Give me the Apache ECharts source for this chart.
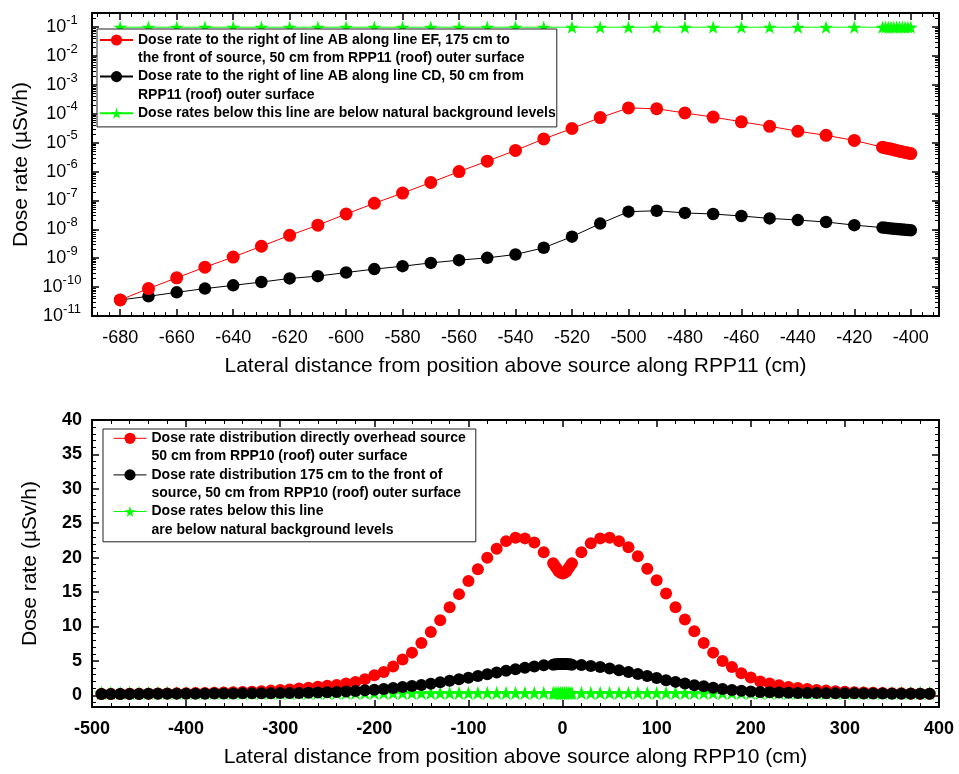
<!DOCTYPE html>
<html>
<head>
<meta charset="utf-8">
<script src="https://cdn.jsdelivr.net/npm/echarts@6/dist/echarts.min.js"></script>
<style>
  html, body { margin: 0; padding: 0; background: #fff; }
  #chart { width: 959px; height: 774px; }
</style>
</head>
<body>
<div id="chart"></div>
<script>
// ---- upper panel: lateral distance along RPP11 (log scale) ----
const topX = [
  -680, -670, -660, -650, -640, -630, -620, -610, -600, -590, -580, -570, -560, -550,
  -540, -530, -520, -510, -500, -490, -480, -470, -460, -450, -440, -430, -420,
  -410, -409, -408, -407, -406, -405, -404, -403, -402, -401, -400
]
const topRedEF = [
  3.6e-11, 8.9e-11, 2.1e-10, 4.9e-10, 1.1e-9, 2.6e-9, 6.2e-9, 1.4e-8, 3.4e-8, 8.0e-8, 1.8e-7, 4.2e-7, 1.0e-6, 2.3e-6,
  5.4e-6, 1.35e-5, 3.1e-5, 7.4e-5, 1.6e-4, 1.5e-4, 1.07e-4, 7.7e-5, 5.3e-5, 3.7e-5, 2.5e-5, 1.8e-5, 1.2e-5,
  7.0e-6, 6.6e-6, 6.3e-6, 6.0e-6, 5.7e-6, 5.4e-6, 5.1e-6, 4.9e-6, 4.6e-6, 4.4e-6, 4.2e-6
]
const topBlackCD = [
  3.6e-11, 4.8e-11, 6.6e-11, 8.9e-11, 1.15e-10, 1.5e-10, 2.0e-10, 2.4e-10, 3.2e-10, 4.2e-10, 5.3e-10, 6.9e-10, 8.6e-10, 1.03e-9,
  1.35e-9, 2.3e-9, 5.6e-9, 1.58e-8, 4.1e-8, 4.4e-8, 3.7e-8, 3.4e-8, 2.9e-8, 2.4e-8, 2.1e-8, 1.8e-8, 1.4e-8,
  1.15e-8, 1.13e-8, 1.1e-8, 1.08e-8, 1.05e-8, 1.03e-8, 1.0e-8, 9.9e-9, 9.7e-9, 9.5e-9, 9.3e-9
]
const topGreenBg = [
  0.1, 0.1, 0.1, 0.1, 0.1, 0.1, 0.1, 0.1, 0.1, 0.1, 0.1, 0.1, 0.1, 0.1,
  0.1, 0.1, 0.1, 0.1, 0.1, 0.1, 0.1, 0.1, 0.1, 0.1, 0.1, 0.1, 0.1,
  0.1, 0.1, 0.1, 0.1, 0.1, 0.1, 0.1, 0.1, 0.1, 0.1, 0.1
]

// ---- lower panel: lateral distance along RPP10 (linear) ----
const botX = [
  -490, -480, -470, -460, -450, -440, -430, -420, -410, -400,
  -390, -380, -370, -360, -350, -340, -330, -320, -310, -300,
  -290, -280, -270, -260, -250, -240, -230, -220, -210, -200,
  -190, -180, -170, -160, -150, -140, -130, -120, -110, -100,
  -90, -80, -70, -60, -50, -40, -30, -20,
  -10, -8, -6, -4, -2, 0, 2, 4, 6, 8, 10,
  20, 30, 40, 50, 60, 70, 80, 90, 100,
  110, 120, 130, 140, 150, 160, 170, 180, 190, 200,
  210, 220, 230, 240, 250, 260, 270, 280, 290, 300,
  310, 320, 330, 340, 350, 360, 370, 380, 390
]
const botRedOverhead = [
  0.2, 0.2, 0.2, 0.22, 0.22, 0.24, 0.25, 0.26, 0.28, 0.3,
  0.32, 0.34, 0.37, 0.4, 0.44, 0.48, 0.53, 0.6, 0.68, 0.76,
  0.86, 0.98, 1.1, 1.25, 1.38, 1.5, 1.7, 1.95, 2.35, 2.9,
  3.4, 4.2, 5.2, 6.2, 7.6, 9.2, 10.9, 12.8, 14.7, 16.6,
  18.3, 20.0, 21.3, 22.4, 22.9, 22.8, 22.2, 20.8,
  19.2, 18.8, 18.4, 18.0, 17.8, 17.7, 17.8, 18.0, 18.4, 18.8, 19.2,
  20.8, 22.1, 22.8, 22.9, 22.4, 21.5, 20.2, 18.4, 16.7,
  14.8, 12.8, 11.0, 9.3, 7.6, 6.2, 5.0, 4.1, 3.2, 2.6,
  2.0, 1.7, 1.45, 1.2, 1.05, 0.9, 0.78, 0.68, 0.6, 0.52,
  0.46, 0.42, 0.38, 0.34, 0.3, 0.28, 0.26, 0.24, 0.22
]
const botBlackFront = [
  0.2, 0.2, 0.2, 0.2, 0.2, 0.21, 0.21, 0.22, 0.22, 0.23,
  0.24, 0.24, 0.25, 0.26, 0.27, 0.28, 0.29, 0.3, 0.31, 0.32,
  0.33, 0.35, 0.37, 0.4, 0.43, 0.48, 0.54, 0.62, 0.72, 0.82,
  0.93, 1.05, 1.2, 1.35, 1.5, 1.68, 1.88, 2.1, 2.32, 2.55,
  2.8, 3.05, 3.3, 3.55, 3.8, 4.0, 4.2, 4.35,
  4.45, 4.5, 4.52, 4.54, 4.55, 4.55, 4.55, 4.54, 4.52, 4.5, 4.45,
  4.4, 4.25, 4.1, 3.9, 3.65, 3.4, 3.1, 2.8, 2.5,
  2.2, 1.95, 1.7, 1.47, 1.3, 1.1, 0.93, 0.78, 0.65, 0.55,
  0.48, 0.43, 0.4, 0.37, 0.35, 0.33, 0.32, 0.31, 0.3, 0.29,
  0.28, 0.27, 0.26, 0.25, 0.24, 0.23, 0.22, 0.22, 0.21
]
const botGreenBg = [
  0.35, 0.35, 0.35, 0.35, 0.35, 0.35, 0.35, 0.35, 0.35, 0.35,
  0.35, 0.35, 0.35, 0.35, 0.35, 0.35, 0.35, 0.35, 0.35, 0.35,
  0.35, 0.35, 0.35, 0.35, 0.35, 0.35, 0.35, 0.35, 0.35, 0.35,
  0.35, 0.35, 0.35, 0.35, 0.35, 0.35, 0.35, 0.35, 0.35, 0.35,
  0.35, 0.35, 0.35, 0.35, 0.35, 0.35, 0.35, 0.35,
  0.35, 0.35, 0.35, 0.35, 0.35, 0.35, 0.35, 0.35, 0.35, 0.35, 0.35,
  0.35, 0.35, 0.35, 0.35, 0.35, 0.35, 0.35, 0.35, 0.35,
  0.35, 0.35, 0.35, 0.35, 0.35, 0.35, 0.35, 0.35, 0.35, 0.35,
  0.35, 0.35, 0.35, 0.35, 0.35, 0.35, 0.35, 0.35, 0.35, 0.35,
  0.35, 0.35, 0.35, 0.35, 0.35, 0.35, 0.35, 0.35, 0.35
]

const topNames = [
  'Dose rate to the right of line AB along line EF, 175 cm to\nthe front of source, 50 cm from RPP11 (roof) outer surface',
  'Dose rate to the right of line AB along line CD, 50 cm from\nRPP11 (roof) outer surface',
  'Dose rates below this line are below natural background levels'
]
const botNames = [
  'Dose rate distribution directly overhead source\n50 cm from RPP10 (roof) outer surface',
  'Dose rate distribution 175 cm to the front of\nsource, 50 cm from RPP10 (roof) outer surface',
  'Dose rates below this line\nare below natural background levels'
]

const FONT = '"Liberation Sans", Arial, sans-serif'
const STAR = 'path://M50,0 L61,35 L98,35 L68,57 L79,91 L50,70 L21,91 L32,57 L2,35 L39,35 Z'
const LH = 18.3

const pairs = (xs, ys) => xs.map((x, i) => [x, ys[i]])

// legend text is padded with blank lines so the icon sits beside the first line
const legendText = (name) => (name.includes('\n') ? '\n' + name : '\n' + name + '\n')

const frame = (extra) => ({
  axisLine: { show: true, onZero: false, lineStyle: { color: '#000', width: 2 } },
  axisTick: { show: true, inside: true, length: 7, lineStyle: { color: '#000', width: 1.5 } },
  minorTick: { show: true, length: 4, splitNumber: 5, lineStyle: { color: '#000', width: 1 } },
  splitLine: { show: false },
  minorSplitLine: { show: false },
  ...extra
})

const noLabel = { show: false }

const chart = echarts.init(document.getElementById('chart'), null, { renderer: 'canvas' })

const topXBase = { type: 'value', gridIndex: 0, min: -690, max: -390, splitNumber: 15 }
const topYBase = { type: 'log', logBase: 10, gridIndex: 0, min: 1e-11, max: 0.31, interval: 1 }
const botXBase = { type: 'value', gridIndex: 1, min: -500, max: 400, interval: 100 }
const botYBase = { type: 'value', gridIndex: 1, min: -1.7, max: 40, splitNumber: 8 }

const axisNameStyle = { color: '#000', fontFamily: FONT, fontSize: 21 }
const legendTextStyle = { color: '#000', fontFamily: FONT, fontSize: 14, fontWeight: 'bold', lineHeight: LH }
const logMinor = { show: true, length: 4, splitNumber: 9, lineStyle: { color: '#000', width: 1 } }

chart.setOption({
  animation: false,
  backgroundColor: '#fff',
  textStyle: { fontFamily: FONT },
  grid: [
    { left: 92, top: 13, width: 847, height: 303, outerBoundsMode: 'none' },
    { left: 92, top: 420, width: 847, height: 287, outerBoundsMode: 'none' }
  ],
  xAxis: [
    frame({
      ...topXBase,
      position: 'bottom',
      name: 'Lateral distance from position above source along RPP11 (cm)',
      nameLocation: 'middle',
      nameGap: 40,
      nameTextStyle: axisNameStyle,
      axisLabel: { color: '#000', fontSize: 18, fontFamily: FONT, margin: 13, showMinLabel: false, showMaxLabel: false }
    }),
    frame({ ...topXBase, position: 'top', axisLabel: noLabel }),
    frame({
      ...botXBase,
      position: 'bottom',
      name: 'Lateral distance from position above source along RPP10 (cm)',
      nameLocation: 'middle',
      nameGap: 40,
      nameTextStyle: axisNameStyle,
      axisLabel: { color: '#000', fontSize: 18, fontWeight: 'bold', fontFamily: FONT, margin: 13 }
    }),
    frame({ ...botXBase, position: 'top', axisLabel: noLabel })
  ],
  yAxis: [
    frame({
      ...topYBase,
      position: 'left',
      name: 'Dose rate (µSv/h)',
      nameLocation: 'middle',
      nameGap: 68,
      nameTextStyle: { ...axisNameStyle, verticalAlign: 'middle' },
      minorTick: logMinor,
      axisLabel: {
        color: '#000',
        align: 'center',
        margin: 30,
        showMaxLabel: false,
        formatter: (v) => `{b|10}{s|${Math.round(Math.log10(v))}}`,
        rich: {
          b: { fontSize: 18, fontFamily: FONT, color: '#000' },
          s: { fontSize: 13, fontFamily: FONT, color: '#000', padding: [0, 0, 14, 0] }
        }
      }
    }),
    frame({ ...topYBase, position: 'right', minorTick: logMinor, axisLabel: noLabel }),
    frame({
      ...botYBase,
      position: 'left',
      name: 'Dose rate (µSv/h)',
      nameLocation: 'middle',
      nameGap: 62,
      nameTextStyle: { ...axisNameStyle, verticalAlign: 'middle' },
      axisLabel: { color: '#000', fontSize: 18, fontWeight: 'bold', fontFamily: FONT, margin: 10, showMinLabel: false }
    }),
    frame({ ...botYBase, position: 'right', axisLabel: noLabel })
  ],
  legend: [
    {
      orient: 'vertical',
      left: 97,
      top: 29,
      padding: [11 - 1.5 * LH, 1, 13.7 - 1.5 * LH, 2],
      itemGap: -LH,
      itemWidth: 33,
      itemHeight: 14,
      selectedMode: false,
      backgroundColor: '#fff',
      borderColor: '#222',
      borderWidth: 1,
      formatter: legendText,
      textStyle: legendTextStyle,
      data: topNames
    },
    {
      orient: 'vertical',
      left: 103,
      top: 429,
      padding: [9.3 - 1.5 * LH, 10, 12 - 0.5 * LH, 10],
      itemGap: -LH,
      itemWidth: 33,
      itemHeight: 14,
      selectedMode: false,
      backgroundColor: '#fff',
      borderColor: '#222',
      borderWidth: 1,
      lineStyle: { width: 1, opacity: 1 },
      formatter: legendText,
      textStyle: legendTextStyle,
      data: botNames
    }
  ],
  series: [
    {
      name: topNames[0], type: 'line', xAxisIndex: 0, yAxisIndex: 0, z: 4,
      data: pairs(topX, topRedEF),
      symbol: 'circle', symbolSize: 13,
      lineStyle: { color: '#ff0000', width: 1 },
      itemStyle: { color: '#ff0000' }
    },
    {
      name: topNames[1], type: 'line', xAxisIndex: 0, yAxisIndex: 0, z: 3,
      data: pairs(topX, topBlackCD),
      symbol: 'circle', symbolSize: 12.5,
      lineStyle: { color: '#000', width: 1 },
      itemStyle: { color: '#000' }
    },
    {
      name: topNames[2], type: 'line', xAxisIndex: 0, yAxisIndex: 0, z: 2,
      data: pairs(topX, topGreenBg),
      symbol: STAR, symbolSize: 14, symbolKeepAspect: true,
      lineStyle: { color: '#00ff00', width: 1 },
      itemStyle: { color: '#00ff00' }
    },
    {
      name: botNames[0], type: 'line', xAxisIndex: 2, yAxisIndex: 2, z: 3,
      data: pairs(botX, botRedOverhead),
      symbol: 'circle', symbolSize: 12,
      lineStyle: { color: '#ff0000', width: 1, opacity: 0 },
      itemStyle: { color: '#ff0000' }
    },
    {
      name: botNames[1], type: 'line', xAxisIndex: 2, yAxisIndex: 2, z: 4,
      data: pairs(botX, botBlackFront),
      symbol: 'circle', symbolSize: 12,
      lineStyle: { color: '#000', width: 1, opacity: 0 },
      itemStyle: { color: '#000' }
    },
    {
      name: botNames[2], type: 'line', xAxisIndex: 2, yAxisIndex: 2, z: 2,
      data: pairs(botX, botGreenBg),
      symbol: STAR, symbolSize: 15, symbolKeepAspect: true,
      lineStyle: { color: '#00ff00', width: 1, opacity: 0 },
      itemStyle: { color: '#00ff00' }
    }
  ]
})
</script>
</body>
</html>
